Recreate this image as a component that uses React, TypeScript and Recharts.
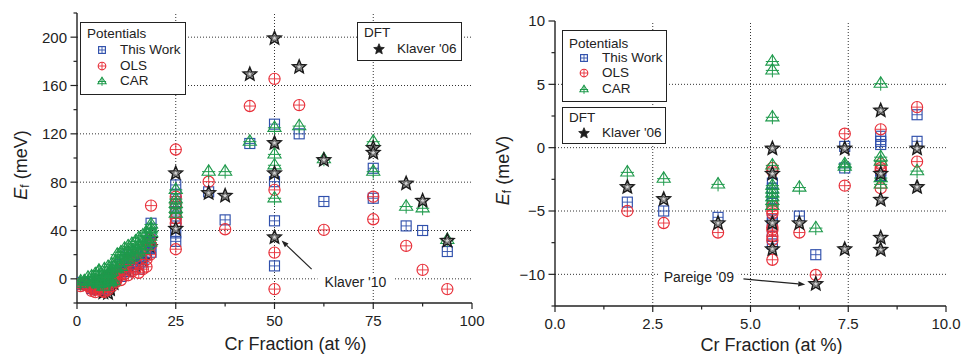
import React from 'react';
import { ScatterChart, Scatter, XAxis, YAxis, ReferenceLine, ReferenceDot, Label } from 'recharts';

type P = { x: number; y: number };

// ---------- Right panel: dilute region (Cr at %, Ef meV) ----------
const lowThisWork: P[] = [
  { x: 1.85, y: -4.3 }, { x: 2.78, y: -5.0 }, { x: 4.17, y: -5.5 },
  { x: 5.56, y: -2.8 }, { x: 5.56, y: -3.2 }, { x: 5.56, y: -3.6 }, { x: 5.56, y: -4.0 },
  { x: 5.56, y: -5.7 }, { x: 5.56, y: -5.95 }, { x: 5.56, y: -7.0 }, { x: 5.56, y: -7.6 },
  { x: 6.25, y: -5.4 }, { x: 6.67, y: -8.45 },
  { x: 7.41, y: 0.1 }, { x: 7.41, y: -1.6 },
  { x: 8.33, y: 0.9 }, { x: 8.33, y: 0.5 }, { x: 8.33, y: 0.25 }, { x: 8.33, y: -1.8 }, { x: 8.33, y: -2.2 },
  { x: 9.26, y: 2.6 }, { x: 9.26, y: 0.5 },
];
const lowOLS: P[] = [
  { x: 1.85, y: -5.0 }, { x: 2.78, y: -5.95 }, { x: 4.17, y: -6.7 },
  { x: 5.56, y: -1.6 }, { x: 5.56, y: -1.85 }, { x: 5.56, y: -4.6 }, { x: 5.56, y: -5.0 },
  { x: 5.56, y: -5.2 }, { x: 5.56, y: -6.3 }, { x: 5.56, y: -6.5 }, { x: 5.56, y: -7.0 },
  { x: 5.56, y: -7.3 }, { x: 5.56, y: -8.85 },
  { x: 6.25, y: -6.7 }, { x: 6.67, y: -10.05 },
  { x: 7.41, y: 1.1 }, { x: 7.41, y: -3.0 },
  { x: 8.33, y: 1.45 }, { x: 8.33, y: -1.3 }, { x: 8.33, y: -1.6 }, { x: 8.33, y: -1.8 }, { x: 8.33, y: -3.2 },
  { x: 9.26, y: 3.2 }, { x: 9.26, y: -1.1 },
];
const lowCAR: P[] = [
  { x: 1.85, y: -1.95 }, { x: 2.78, y: -2.45 }, { x: 4.17, y: -2.9 },
  { x: 5.56, y: 6.8 }, { x: 5.56, y: 6.1 }, { x: 5.56, y: 2.4 }, { x: 5.56, y: -1.4 },
  { x: 5.56, y: -3.0 }, { x: 5.56, y: -3.3 }, { x: 5.56, y: -3.6 }, { x: 5.56, y: -3.9 },
  { x: 5.56, y: -4.2 }, { x: 5.56, y: -4.6 },
  { x: 6.25, y: -3.15 }, { x: 6.67, y: -6.35 },
  { x: 7.41, y: -1.3 }, { x: 7.41, y: -1.5 },
  { x: 8.33, y: 5.05 }, { x: 8.33, y: -0.75 }, { x: 8.33, y: -1.1 }, { x: 8.33, y: -2.4 }, { x: 8.33, y: -2.9 },
  { x: 9.26, y: -1.85 },
];
const lowKlaver: P[] = [
  { x: 1.85, y: -3.05 }, { x: 2.78, y: -4.0 }, { x: 4.17, y: -5.9 },
  { x: 5.56, y: 0.0 }, { x: 5.56, y: -2.0 }, { x: 5.56, y: -5.9 }, { x: 5.56, y: -7.95 },
  { x: 6.25, y: -5.9 }, { x: 6.67, y: -10.7 },
  { x: 7.41, y: 0.0 }, { x: 7.41, y: -7.95 },
  { x: 8.33, y: 3.0 }, { x: 8.33, y: -2.0 }, { x: 8.33, y: -4.05 }, { x: 8.33, y: -7.05 }, { x: 8.33, y: -8.0 },
  { x: 9.26, y: 0.0 }, { x: 9.26, y: -3.05 },
];

// ---------- Left panel: extra low-concentration cluster ----------
const clusterThisWork: P[] = [
  { x: 0.93, y: -3 }, { x: 0.93, y: -4.5 }, { x: 3.7, y: -6 }, { x: 3.7, y: -8 }, { x: 4.63, y: -7 }, { x: 4.63, y: -9 },
  { x: 6.94, y: -9 }, { x: 6.94, y: -4 }, { x: 7.87, y: -6 }, { x: 7.87, y: -2 }, { x: 8.8, y: -3 }, { x: 8.8, y: 1 },
  { x: 9.72, y: 0 }, { x: 9.72, y: 4 }, { x: 10.19, y: 5 }, { x: 10.19, y: 10 }, { x: 11.11, y: 2 }, { x: 11.11, y: 12 },
  { x: 12.04, y: 8 }, { x: 12.04, y: 16 }, { x: 12.96, y: 6 }, { x: 12.96, y: 14 }, { x: 12.96, y: 20 },
  { x: 13.89, y: 10 }, { x: 13.89, y: 18 }, { x: 14.81, y: 12 }, { x: 14.81, y: 22 }, { x: 15.63, y: 8 }, { x: 15.63, y: 18 },
  { x: 16.67, y: 14 }, { x: 16.67, y: 24 }, { x: 17.59, y: 20 }, { x: 18.52, y: 25 }, { x: 18.52, y: 30 }, { x: 18.52, y: 37 },
  { x: 18.75, y: 46 }, { x: 18.75, y: 22 },
];
const clusterOLS: P[] = [
  { x: 0.93, y: -4 }, { x: 0.93, y: -6 }, { x: 3.7, y: -8 }, { x: 3.7, y: -10 }, { x: 4.63, y: -9 }, { x: 4.63, y: -11 },
  { x: 6.94, y: -11 }, { x: 6.94, y: -7 }, { x: 7.87, y: -9 }, { x: 7.87, y: -4 }, { x: 8.8, y: -6 }, { x: 8.8, y: -1 },
  { x: 9.72, y: -3 }, { x: 9.72, y: 2 }, { x: 10.19, y: 0 }, { x: 10.19, y: 6 }, { x: 11.11, y: -1 }, { x: 11.11, y: 8 },
  { x: 12.04, y: 4 }, { x: 12.04, y: 12 }, { x: 12.96, y: 3 }, { x: 12.96, y: 15 }, { x: 13.89, y: 6 }, { x: 13.89, y: 20 },
  { x: 14.81, y: 8 }, { x: 14.81, y: 18 }, { x: 15.63, y: 5 }, { x: 15.63, y: 24 }, { x: 16.67, y: 8 },
  { x: 17.59, y: 10 }, { x: 17.59, y: 16 }, { x: 18.52, y: 20 }, { x: 18.52, y: 33 }, { x: 18.75, y: 60.6 }, { x: 18.75, y: 28 },
];
const clusterCAR: P[] = [
  { x: 0.93, y: -2 }, { x: 0.93, y: -4 }, { x: 2.78, y: 1 }, { x: 3.7, y: 2 }, { x: 3.7, y: -2 }, { x: 4.63, y: 4 }, { x: 4.63, y: -1 },
  { x: 6.94, y: 8 }, { x: 6.94, y: 2 }, { x: 7.87, y: 10 }, { x: 7.87, y: 4 }, { x: 8.8, y: 12 }, { x: 8.8, y: 6 },
  { x: 9.72, y: 14 }, { x: 9.72, y: 9 }, { x: 10.19, y: 14 }, { x: 10.19, y: 20 }, { x: 10.19, y: 8 },
  { x: 11.11, y: 18 }, { x: 11.11, y: 22 }, { x: 11.11, y: 10 }, { x: 12.04, y: 20 }, { x: 12.04, y: 25 }, { x: 12.04, y: 14 },
  { x: 12.96, y: 22 }, { x: 12.96, y: 27 }, { x: 12.96, y: 16 }, { x: 13.89, y: 24 }, { x: 13.89, y: 29 }, { x: 13.89, y: 18 },
  { x: 14.81, y: 26 }, { x: 14.81, y: 31 }, { x: 14.81, y: 20 }, { x: 15.63, y: 28 }, { x: 15.63, y: 34 }, { x: 15.63, y: 22 },
  { x: 16.67, y: 30 }, { x: 16.67, y: 36 }, { x: 16.67, y: 24 }, { x: 17.59, y: 32 }, { x: 17.59, y: 38 }, { x: 17.59, y: 27 },
  { x: 18.52, y: 35 }, { x: 18.52, y: 41 }, { x: 18.52, y: 30 }, { x: 18.75, y: 45 }, { x: 18.75, y: 42 }, { x: 18.75, y: 38 },
];
const clusterKlaver: P[] = [
  { x: 6.94, y: -9 }, { x: 7.87, y: -11 }, { x: 10.19, y: 4 }, { x: 12.5, y: 8 }, { x: 14.81, y: 12 },
  { x: 16.67, y: 16 }, { x: 18.52, y: 27 }, { x: 18.52, y: 33 },
];

// ---------- Left panel: concentrated alloys ----------
const highThisWork: P[] = [
  { x: 25, y: 77.7 }, { x: 25, y: 70 }, { x: 25, y: 64 }, { x: 25, y: 58 }, { x: 25, y: 52 }, { x: 25, y: 46 },
  { x: 25, y: 38 }, { x: 25, y: 31 }, { x: 33.33, y: 72 }, { x: 37.5, y: 48.8 }, { x: 43.75, y: 112 },
  { x: 50, y: 128 }, { x: 50, y: 80.4 }, { x: 50, y: 48 }, { x: 50, y: 10.7 }, { x: 56.25, y: 120 }, { x: 62.5, y: 64 },
  { x: 75, y: 91.5 }, { x: 75, y: 66.7 }, { x: 83.33, y: 43.8 }, { x: 87.5, y: 40 }, { x: 93.75, y: 22.6 },
];
const highOLS: P[] = [
  { x: 25, y: 107 }, { x: 25, y: 68 }, { x: 25, y: 62 }, { x: 25, y: 55 }, { x: 25, y: 50 }, { x: 25, y: 46 },
  { x: 25, y: 24.5 }, { x: 33.33, y: 80.4 }, { x: 37.5, y: 41 }, { x: 43.75, y: 143 },
  { x: 50, y: 165.5 }, { x: 50, y: 73.6 }, { x: 50, y: 21.7 }, { x: 50, y: -8.5 }, { x: 56.25, y: 143.8 }, { x: 62.5, y: 40.5 },
  { x: 75, y: 68 }, { x: 75, y: 49.3 }, { x: 83.33, y: 27.3 }, { x: 87.5, y: 7.4 }, { x: 93.75, y: -8.5 },
];
const highCAR: P[] = [
  { x: 25, y: 73.6 }, { x: 25, y: 66 }, { x: 25, y: 62 }, { x: 25, y: 58 }, { x: 25, y: 54 },
  { x: 33.33, y: 88.7 }, { x: 37.5, y: 88.7 }, { x: 43.75, y: 113.5 },
  { x: 50, y: 125 }, { x: 50, y: 103 }, { x: 50, y: 94 }, { x: 50, y: 66.7 }, { x: 56.25, y: 126.4 }, { x: 62.5, y: 99 },
  { x: 75, y: 113.5 }, { x: 75, y: 88.7 }, { x: 83.33, y: 59.8 }, { x: 87.5, y: 58.4 }, { x: 93.75, y: 32.2 },
];
const highKlaver: P[] = [
  { x: 25, y: 88 }, { x: 25, y: 42 }, { x: 33.33, y: 71.6 }, { x: 37.5, y: 69.4 }, { x: 43.75, y: 170 },
  { x: 50, y: 199.7 }, { x: 50, y: 113 }, { x: 50, y: 88 }, { x: 50, y: 35 }, { x: 56.25, y: 176 }, { x: 62.5, y: 99 },
  { x: 75, y: 109 }, { x: 75, y: 105 }, { x: 83.33, y: 79.6 }, { x: 87.5, y: 65.3 }, { x: 93.75, y: 32.2 },
];

const leftThisWork = [...lowThisWork, ...clusterThisWork, ...highThisWork];
const leftOLS = [...lowOLS, ...clusterOLS, ...highOLS];
const leftCAR = [...lowCAR, ...clusterCAR, ...highCAR];
const leftKlaverLow = [...lowKlaver, ...clusterKlaver];

// ---------- Ticks ----------
const leftXTicks = [0, 12.5, 25, 37.5, 50, 62.5, 75, 87.5, 100];
const leftXLabels = [0, 25, 50, 75, 100];
const leftYTicks = [-20, 0, 20, 40, 60, 80, 100, 120, 140, 160, 180, 200, 220];
const leftYLabels = [0, 40, 80, 120, 160, 200];
const leftGridX = [25, 50, 75];
const leftGridY = [0, 40, 80, 120, 160, 200];
const rightXTicks = [0, 1.25, 2.5, 3.75, 5, 6.25, 7.5, 8.75, 10];
const rightXLabels = [0, 2.5, 5, 7.5, 10];
const rightYTicks = [-12.5, -10, -7.5, -5, -2.5, 0, 2.5, 5, 7.5, 10];
const rightYLabels = [-10, -5, 0, 5, 10];
const rightGridX = [2.5, 5, 7.5];
const rightGridY = [-10, -5, 0, 5];

const potentialLabels = ['This Work', 'OLS', 'CAR'];
const dftLabels = ["Klaver '06"];
const xTitle = 'Cr Fraction (at %)';

// ---------- Styles ----------
const FONT = '"Liberation Sans", Arial, Helvetica, sans-serif';
const BLUE = '#3050ac';
const RED = '#e8303a';
const GREEN = '#1f9a4c';
const INK = '#1c1c1c';
const AX = { stroke: '#222', strokeWidth: 1.4 };

// ---------- Markers ----------
function SquareMark({ cx, cy, s = 5 }: any) {
  return (
    <g>
      <rect x={cx - s} y={cy - s} width={2 * s} height={2 * s} fill="none" stroke={BLUE} strokeWidth={1.15} />
      <line x1={cx - s} x2={cx + s} y1={cy} y2={cy} stroke={BLUE} strokeWidth={0.9} />
      <line x1={cx} x2={cx} y1={cy - s} y2={cy + s} stroke={BLUE} strokeWidth={0.9} />
    </g>
  );
}
function CircleMark({ cx, cy, s = 5.6 }: any) {
  return (
    <g>
      <circle cx={cx} cy={cy} r={s} fill="none" stroke={RED} strokeWidth={1.15} />
      <line x1={cx - s} x2={cx + s} y1={cy} y2={cy} stroke={RED} strokeWidth={0.9} />
      <line x1={cx} x2={cx} y1={cy - s} y2={cy + s} stroke={RED} strokeWidth={0.9} />
    </g>
  );
}
function TriMark({ cx, cy, s = 1 }: any) {
  const w = 6.6 * s;
  const top = cy - 6.8 * s;
  const base = cy + 3.6 * s;
  return (
    <g>
      <polygon points={`${cx},${top} ${cx - w},${base} ${cx + w},${base}`} fill="none" stroke={GREEN} strokeWidth={1.1} />
      <line x1={cx - w} x2={cx + w} y1={cy} y2={cy} stroke={GREEN} strokeWidth={1} />
      <line x1={cx} x2={cx} y1={top} y2={cy + 7 * s} stroke={GREEN} strokeWidth={1} />
    </g>
  );
}
function starPts(cx: number, cy: number, R: number, r: number) {
  const pts: string[] = [];
  for (let i = 0; i < 10; i++) {
    const a = -Math.PI / 2 + (i * Math.PI) / 5;
    const rad = i % 2 === 0 ? R : r;
    pts.push(`${cx + rad * Math.cos(a)},${cy + rad * Math.sin(a)}`);
  }
  return pts.join(' ');
}
function StarMark({ cx, cy, R = 7, solid = false }: any) {
  if (solid) {
    return <polygon points={starPts(cx, cy + 0.8, R, R * 0.45)} fill={INK} stroke={INK} strokeWidth={0.8} />;
  }
  return (
    <g>
      <polygon points={starPts(cx, cy + 0.8, R, R * 0.45)} fill="#d4d4d4" stroke={INK} strokeWidth={1.5} />
      <polygon points={starPts(cx, cy + 0.8, R * 0.5, R * 0.22)} fill="none" stroke="#444" strokeWidth={0.8} />
    </g>
  );
}

// ---------- Ticks ----------
const fmtInt = (v: number) => String(v);
const fmtDec = (v: number) => v.toFixed(1);
const fmtMinus = (v: number) => (v < 0 ? '\u2212' + Math.abs(v) : String(v));
const isIn = (arr: number[], v: number) => arr.some((a) => Math.abs(a - v) < 1e-9);
const tickText = { fontSize: 15, fontFamily: FONT, fill: '#222' };

const bottomTick = (labels: number[], fmt: (v: number) => string) => (p: any) => {
  const v = p.payload.value;
  const major = isIn(labels, v);
  return (
    <g>
      <line x1={p.x} x2={p.x} y1={p.y} y2={p.y + (major ? 6 : 3.5)} stroke="#222" strokeWidth={1.2} />
      {major && (
        <text x={p.x} y={p.y + 12} dy="0.71em" textAnchor="middle" {...tickText}>
          {fmt(v)}
        </text>
      )}
    </g>
  );
};
const leftTick = (labels: number[], fmt: (v: number) => string) => (p: any) => {
  const v = p.payload.value;
  const major = isIn(labels, v);
  return (
    <g>
      <line x1={p.x - (major ? 6.5 : 3.5)} x2={p.x} y1={p.y} y2={p.y} stroke="#222" strokeWidth={1.2} />
      {major && (
        <text x={p.x - 10} y={p.y} dy="0.36em" textAnchor="end" {...tickText}>
          {fmt(v)}
        </text>
      )}
    </g>
  );
};
const topTick = (labels: number[]) => (p: any) => {
  const major = isIn(labels, p.payload.value);
  return <line x1={p.x} x2={p.x} y1={p.y} y2={p.y + (major ? 6 : 3.5)} stroke="#222" strokeWidth={1.2} />;
};
const rightTick = (labels: number[]) => (p: any) => {
  const major = isIn(labels, p.payload.value);
  return <line x1={p.x - (major ? 6 : 3.5)} x2={p.x} y1={p.y} y2={p.y} stroke="#222" strokeWidth={1.2} />;
};

// ---------- Labels ----------
const xTitleContent = (dy: number) => (props: any) => {
  const vb = props.viewBox || { x: 0, y: 0, width: 0, height: 0 };
  return (
    <text x={vb.x + vb.width / 2 + 21} y={vb.y + dy} textAnchor="middle" fontSize={18} fontFamily={FONT} fill="#222">
      {xTitle}
    </text>
  );
};
const yTitleContent = (xoff: number, yoff: number) => (props: any) => {
  const vb = props.viewBox || { x: 0, y: 0, width: 0, height: 0 };
  const cx = vb.x + xoff;
  const cy = vb.y + vb.height / 2 + yoff;
  return (
    <text
      x={cx}
      y={cy}
      transform={`rotate(-90 ${cx} ${cy})`}
      textAnchor="middle"
      dominantBaseline="central"
      fontSize={18}
      fontFamily={FONT}
      fill="#222"
    >
      <tspan fontStyle="italic">E</tspan>
      <tspan fontSize={12} dy={4}>f</tspan>
      <tspan dy={-4}> (meV)</tspan>
    </text>
  );
};

// ---------- Annotations ----------
const noteBox = (text: string, w: number) => (p: any) => (
  <g>
    <rect x={p.cx - w / 2} y={p.cy - 8} width={w} height={16} fill="#fff" />
    <text x={p.cx} y={p.cy} dy="0.36em" textAnchor="middle" fontSize={14} fontFamily={FONT} fill="#222">
      {text}
    </text>
  </g>
);
const arrowShape = (p: any) => {
  const { x1, y1, x2, y2 } = p;
  const ang = Math.atan2(y2 - y1, x2 - x1);
  const L = 7;
  const W = 2.6;
  const bx = x2 - L * Math.cos(ang);
  const by = y2 - L * Math.sin(ang);
  const nx = -Math.sin(ang) * W;
  const ny = Math.cos(ang) * W;
  return (
    <g>
      <line x1={x1} y1={y1} x2={bx} y2={by} stroke="#222" strokeWidth={1.2} />
      <polygon points={`${x2},${y2} ${bx + nx},${by + ny} ${bx - nx},${by - ny}`} fill="#222" />
    </g>
  );
};

// ---------- Legends ----------
function Icon({ kind }: { kind: string }) {
  return (
    <svg width={16} height={16} style={{ display: 'block' }}>
      {kind === 'sq' && <SquareMark cx={8} cy={8} s={3.4} />}
      {kind === 'ci' && <CircleMark cx={8} cy={8} s={3.8} />}
      {kind === 'tr' && <TriMark cx={8} cy={8.5} s={0.62} />}
      {kind === 'st' && <StarMark cx={8} cy={7.5} R={5.6} solid />}
    </svg>
  );
}
function LegendBox({ left, top, width, height, title, titleY, rows }: any) {
  return (
    <div
      style={{
        position: 'absolute', left, top, width, height, boxSizing: 'border-box',
        border: '1.5px solid #222', background: '#fff', fontFamily: FONT, fontSize: 13.5, color: '#222',
      }}
    >
      <div style={{ position: 'absolute', left: 6, top: titleY, transform: 'translateY(-50%)', lineHeight: 1, whiteSpace: 'nowrap' }}>
        {title}
      </div>
      {rows.map((r: any) => (
        <React.Fragment key={r.label}>
          <div style={{ position: 'absolute', left: 21 - 8, top: r.y - 8 }}>
            <Icon kind={r.kind} />
          </div>
          <div style={{ position: 'absolute', left: 39, top: r.y, transform: 'translateY(-50%)', lineHeight: 1, whiteSpace: 'nowrap' }}>
            {r.label}
          </div>
        </React.Fragment>
      ))}
    </div>
  );
}

const kinds = ['sq', 'ci', 'tr'];

export default function App() {
  return (
    <div style={{ position: 'absolute', left: 0, top: 0, width: 962, height: 354, background: '#fff', overflow: 'hidden' }}>
      {/* Left panel */}
      <div style={{ position: 'absolute', left: 0, top: 0 }}>
        <ScatterChart width={500} height={354} margin={{ top: 13, right: 28, bottom: 0, left: 0 }}>
          <XAxis
            type="number" dataKey="x" domain={[0, 100]} ticks={leftXTicks} interval={0} allowDataOverflow
            tickSize={0} tickMargin={0} tickLine={false} axisLine={AX} tick={bottomTick(leftXLabels, fmtInt)} height={51}
          >
            <Label content={xTitleContent(47)} />
          </XAxis>
          <XAxis
            xAxisId="top" orientation="top" mirror type="number" domain={[0, 100]} ticks={leftXTicks} interval={0}
            allowDataOverflow tickSize={0} tickMargin={0} tickLine={false} axisLine={AX} tick={topTick(leftXLabels)} height={0}
          />
          <YAxis
            type="number" dataKey="y" domain={[-20, 220]} ticks={leftYTicks} interval={0} allowDataOverflow
            tickSize={0} tickMargin={0} tickLine={false} axisLine={AX} tick={leftTick(leftYLabels, fmtInt)} width={77}
          >
            <Label content={yTitleContent(21, 7)} />
          </YAxis>
          <YAxis
            yAxisId="right" orientation="right" mirror type="number" domain={[-20, 220]} ticks={leftYTicks} interval={0}
            allowDataOverflow tickSize={0} tickMargin={0} tickLine={false} axisLine={AX} tick={rightTick(leftYLabels)} width={0}
          />
          {leftGridY.map((v) => (
            <ReferenceLine key={'gy' + v} y={v} stroke="#333" strokeDasharray="1 2" strokeWidth={1} />
          ))}
          {leftGridX.map((v) => (
            <ReferenceLine key={'gx' + v} x={v} stroke="#333" strokeDasharray="1 2" strokeWidth={1} />
          ))}
          <ReferenceDot x={70.5} y={-2.3} r={0} shape={noteBox("Klaver '10", 76)} />
          <ReferenceLine segment={[{ x: 59.4, y: 8 }, { x: 51.8, y: 31.7 }]} shape={arrowShape} />
          <Scatter data={leftKlaverLow} isAnimationActive={false} shape={(p: any) => <StarMark cx={p.cx} cy={p.cy} />} />
          <Scatter data={leftThisWork} isAnimationActive={false} shape={(p: any) => <SquareMark cx={p.cx} cy={p.cy} />} />
          <Scatter data={leftOLS} isAnimationActive={false} shape={(p: any) => <CircleMark cx={p.cx} cy={p.cy} />} />
          <Scatter data={leftCAR} isAnimationActive={false} shape={(p: any) => <TriMark cx={p.cx} cy={p.cy} />} />
          <Scatter data={highKlaver} isAnimationActive={false} shape={(p: any) => <StarMark cx={p.cx} cy={p.cy} />} />
        </ScatterChart>
      </div>

      {/* Right panel */}
      <div style={{ position: 'absolute', left: 480, top: 0 }}>
        <ScatterChart width={482} height={354} margin={{ top: 21, right: 16, bottom: 0, left: 0 }}>
          <XAxis
            type="number" dataKey="x" domain={[0, 10]} ticks={rightXTicks} interval={0} allowDataOverflow
            tickSize={0} tickMargin={0} tickLine={false} axisLine={AX} tick={bottomTick(rightXLabels, fmtDec)} height={48}
          >
            <Label content={xTitleContent(45)} />
          </XAxis>
          <XAxis
            xAxisId="top" orientation="top" mirror type="number" domain={[0, 10]} ticks={rightXTicks} interval={0}
            allowDataOverflow tickSize={0} tickMargin={0} tickLine={false} axisLine={AX} tick={topTick(rightXLabels)} height={0}
          />
          <YAxis
            type="number" dataKey="y" domain={[-12.5, 10]} ticks={rightYTicks} interval={0} allowDataOverflow
            tickSize={0} tickMargin={0} tickLine={false} axisLine={AX} tick={leftTick(rightYLabels, fmtMinus)} width={75}
          >
            <Label content={yTitleContent(23, 7)} />
          </YAxis>
          <YAxis
            yAxisId="right" orientation="right" mirror type="number" domain={[-12.5, 10]} ticks={rightYTicks} interval={0}
            allowDataOverflow tickSize={0} tickMargin={0} tickLine={false} axisLine={AX} tick={rightTick(rightYLabels)} width={0}
          />
          {rightGridY.map((v) => (
            <ReferenceLine key={'gy' + v} y={v} stroke="#333" strokeDasharray="1 2" strokeWidth={1} />
          ))}
          {rightGridX.map((v) => (
            <ReferenceLine key={'gx' + v} x={v} stroke="#333" strokeDasharray="1 2" strokeWidth={1} />
          ))}
          <ReferenceDot x={3.68} y={-10.2} r={0} shape={noteBox("Pareige '09", 80)} />
          <ReferenceLine segment={[{ x: 4.82, y: -10.36 }, { x: 6.4, y: -10.81 }]} shape={arrowShape} />
          <Scatter data={lowThisWork} isAnimationActive={false} shape={(p: any) => <SquareMark cx={p.cx} cy={p.cy} />} />
          <Scatter data={lowOLS} isAnimationActive={false} shape={(p: any) => <CircleMark cx={p.cx} cy={p.cy} />} />
          <Scatter data={lowCAR} isAnimationActive={false} shape={(p: any) => <TriMark cx={p.cx} cy={p.cy} />} />
          <Scatter data={lowKlaver} isAnimationActive={false} shape={(p: any) => <StarMark cx={p.cx} cy={p.cy} />} />
        </ScatterChart>
      </div>

      {/* Legends */}
      <LegendBox
        left={80} top={22} width={106} height={73} title="Potentials" titleY={11}
        rows={potentialLabels.map((l, i) => ({ label: l, kind: kinds[i], y: [27, 43, 58][i] }))}
      />
      <LegendBox
        left={357} top={22} width={105} height={39} title="DFT" titleY={10}
        rows={dftLabels.map((l) => ({ label: l, kind: 'st', y: 25.5 }))}
      />
      <LegendBox
        left={562} top={30} width={105} height={72} title="Potentials" titleY={12.5}
        rows={potentialLabels.map((l, i) => ({ label: l, kind: kinds[i], y: [27, 42, 57.5][i] }))}
      />
      <LegendBox
        left={562} top={107} width={104} height={37} title="DFT" titleY={9.5}
        rows={dftLabels.map((l) => ({ label: l, kind: 'st', y: 24.5 }))}
      />
    </div>
  );
}
